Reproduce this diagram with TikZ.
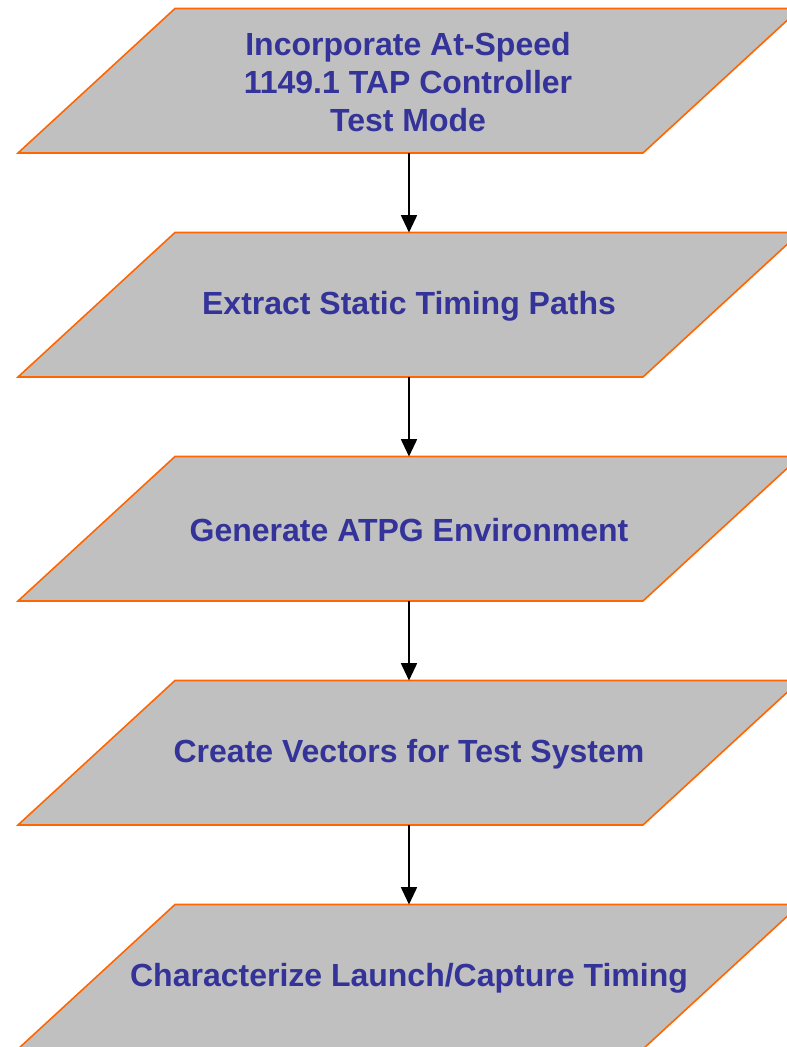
\documentclass[tikz,border=0pt]{standalone}
\usepackage{fontspec}
\setmainfont{Liberation Sans}
\usetikzlibrary{arrows.meta}

\definecolor{boxgray}{HTML}{C0C0C0}
\definecolor{boxline}{HTML}{FF6600}
\definecolor{steptextcol}{HTML}{333399}

\tikzset{
  stepshape/.style={fill=boxgray, draw=boxline, line width=1.2pt, line join=miter},
  steptext/.style={text=steptextcol, font=\fontsize{24}{28.5}\selectfont\bfseries, align=center},
  flowarrow/.style={-{Triangle[length=13pt,width=12pt]}, line width=1.3pt}
}

\begin{document}
\begin{tikzpicture}[x=0.75pt,y=-0.75pt]

\useasboundingbox (0,0) rectangle (787,1047);
\clip (0,0) rectangle (787,1047);

% Etape 1
\draw[stepshape] (175,8.5) -- (800,8.5) -- (643,153) -- (18,153) -- cycle;
\node[steptext] (incorp) at (408,82)
{Incorporate At-Speed\\1149.1 TAP Controller\\Test Mode};
\coordinate (incorp-s) at (409,153);

% Etape 2
\draw[stepshape] (175,232.5) -- (800,232.5) -- (643,377) -- (18,377) -- cycle;
\node[steptext] (extract) at (409,306) {Extract Static Timing Paths};
\coordinate (extract-n) at (409,232.5);
\coordinate (extract-s) at (409,377);

% Etape 3
\draw[stepshape] (175,456.5) -- (800,456.5) -- (643,601) -- (18,601) -- cycle;
\node[steptext] (atpg) at (409,530) {Generate ATPG Environment};
\coordinate (atpg-n) at (409,456.5);
\coordinate (atpg-s) at (409,601);

% Etape 4
\draw[stepshape] (175,680.5) -- (800,680.5) -- (643,825) -- (18,825) -- cycle;
\node[steptext] (vectors) at (409,754) {Create Vectors for Test System};
\coordinate (vectors-n) at (409,680.5);
\coordinate (vectors-s) at (409,825);

% Etape 5
\draw[stepshape] (175,904.5) -- (800,904.5) -- (643,1049) -- (18,1049) -- cycle;
\node[steptext] (charac) at (409,978) {Characterize Launch/Capture Timing};
\coordinate (charac-n) at (409,904.5);

% Fleches
\draw[flowarrow] (incorp-s) -- (extract-n);
\draw[flowarrow] (extract-s) -- (atpg-n);
\draw[flowarrow] (atpg-s) -- (vectors-n);
\draw[flowarrow] (vectors-s) -- (charac-n);

\end{tikzpicture}
\end{document}
